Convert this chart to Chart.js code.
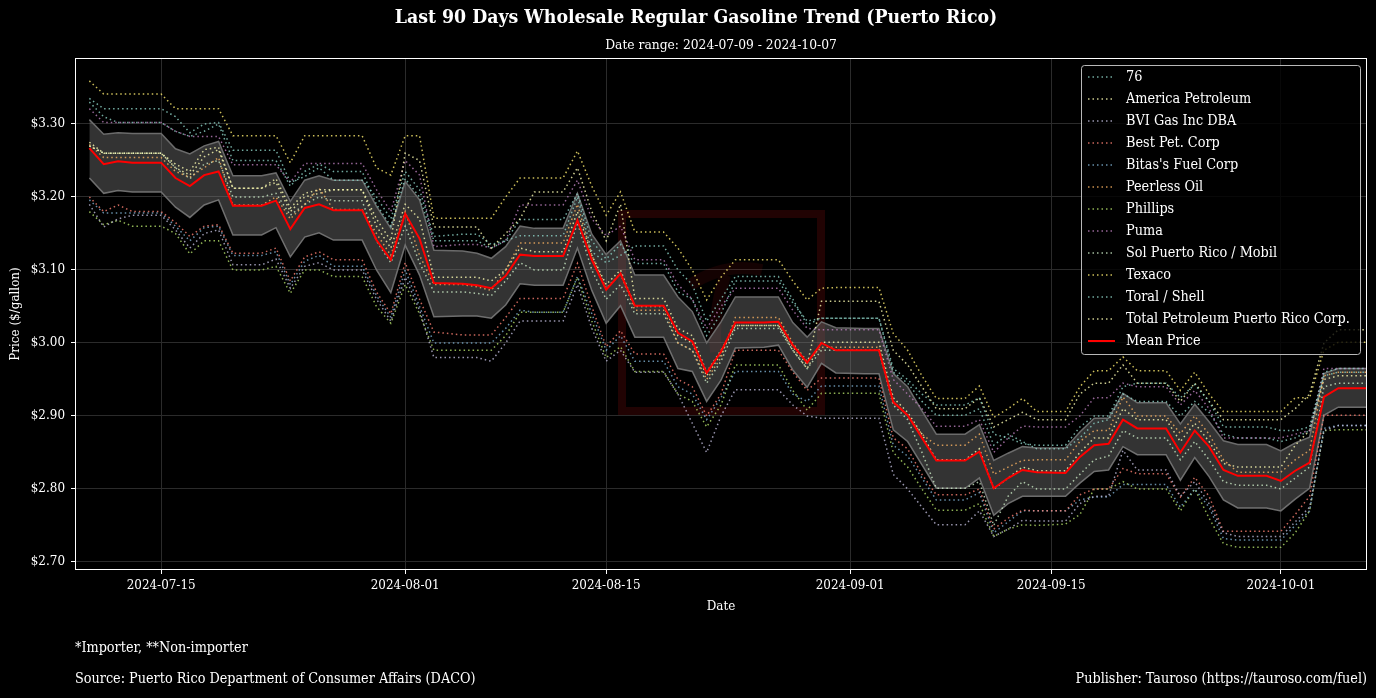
<!DOCTYPE html>
<html>
<head>
<meta charset="utf-8">
<script src="https://cdn.jsdelivr.net/npm/chart.js@4.4.1/dist/chart.umd.min.js"></script>
<style>
  html, body { margin: 0; padding: 0; background: #000; }
  #wrap { width: 1376px; height: 698px; }
</style>
</head>
<body>
<div id="wrap"><canvas id="gasChart" width="1376" height="698"></canvas></div>
<script>
// days with a price (2024, Sundays have no report)
const dates = ['07-10','07-11','07-12','07-13','07-15','07-16','07-17','07-18','07-19','07-20',
  '07-22','07-23','07-24','07-25','07-26','07-27','07-29','07-30','07-31','08-01',
  '08-02','08-03','08-05','08-06','08-07','08-08','08-09','08-10','08-12','08-13',
  '08-14','08-15','08-16','08-17','08-19','08-20','08-21','08-22','08-23','08-24',
  '08-26','08-27','08-28','08-29','08-30','08-31','09-02','09-03','09-04','09-05',
  '09-06','09-07','09-09','09-10','09-11','09-12','09-13','09-14','09-16','09-17',
  '09-18','09-19','09-20','09-21','09-23','09-24','09-25','09-26','09-27','09-28',
  '09-30','10-01','10-02','10-03','10-04','10-05','10-07'];

const price76 = [3.335,3.321,3.321,3.321,3.321,3.31,3.288,3.30,3.302,3.264,
  3.264,3.264,3.22,3.228,3.24,3.223,3.223,3.20,3.17,3.235,
  3.21,3.146,3.149,3.149,3.135,3.14,3.147,3.147,3.147,3.20,
  3.125,3.11,3.12,3.133,3.133,3.10,3.08,3.03,3.06,3.091,
  3.091,3.091,3.06,3.025,3.034,3.034,3.034,3.034,2.965,2.95,
  2.93,2.915,2.915,2.925,2.875,2.87,2.862,2.86,2.86,2.885,
  2.90,2.90,2.94,2.945,2.945,2.925,2.943,2.92,2.885,2.885,
  2.885,2.88,2.88,2.885,2.96,2.965,2.965];
const priceAmerica = [3.27,3.26,3.26,3.26,3.26,3.245,3.235,3.265,3.268,3.212,
  3.212,3.225,3.185,3.205,3.21,3.21,3.21,3.17,3.14,3.26,
  3.25,3.159,3.159,3.159,3.13,3.15,3.17,3.207,3.207,3.24,
  3.18,3.14,3.19,3.061,3.061,3.02,3.01,2.96,2.99,3.024,
  3.024,3.024,2.995,2.97,3.057,3.057,3.057,3.057,2.99,2.97,
  2.94,2.91,2.91,2.925,2.885,2.895,2.905,2.895,2.895,2.93,
  2.945,2.945,2.97,2.945,2.945,2.92,2.945,2.92,2.895,2.895,
  2.895,2.895,2.91,2.93,3.0,3.018,3.018];
const priceBvi = [3.19,3.159,3.17,3.175,3.175,3.155,3.13,3.15,3.155,3.107,
  3.107,3.115,3.075,3.105,3.11,3.10,3.10,3.06,3.03,3.09,
  3.045,2.98,2.98,2.98,2.975,3.0,3.03,3.03,3.03,3.08,
  3.02,2.975,2.99,2.96,2.96,2.93,2.89,2.85,2.90,2.936,
  2.936,2.936,2.915,2.90,2.897,2.897,2.897,2.897,2.82,2.80,
  2.775,2.751,2.751,2.77,2.735,2.745,2.757,2.756,2.756,2.78,
  2.79,2.79,2.853,2.826,2.826,2.79,2.81,2.78,2.74,2.735,
  2.735,2.735,2.755,2.775,2.88,2.887,2.887];
const priceBest = [3.20,3.18,3.189,3.18,3.18,3.165,3.146,3.16,3.162,3.123,
  3.123,3.13,3.085,3.118,3.125,3.114,3.114,3.07,3.04,3.11,
  3.06,3.015,3.011,3.011,3.011,3.035,3.061,3.061,3.061,3.109,
  3.05,2.995,3.017,2.985,2.985,2.95,2.94,2.90,2.93,2.99,
  2.99,2.99,2.96,2.935,2.952,2.952,2.952,2.952,2.87,2.855,
  2.82,2.792,2.792,2.80,2.745,2.76,2.771,2.77,2.77,2.792,
  2.80,2.80,2.828,2.821,2.821,2.789,2.816,2.79,2.742,2.742,
  2.742,2.742,2.765,2.79,2.901,2.901,2.901];
const priceBitas = [3.196,3.178,3.178,3.178,3.178,3.16,3.14,3.158,3.16,3.12,
  3.12,3.125,3.08,3.112,3.12,3.105,3.105,3.065,3.035,3.10,
  3.05,3.0,3.0,3.0,3.0,3.02,3.045,3.042,3.042,3.091,
  3.04,2.99,3.01,2.975,2.975,2.94,2.93,2.895,2.925,2.961,
  2.961,2.961,2.93,2.92,2.941,2.941,2.941,2.941,2.86,2.845,
  2.815,2.785,2.785,2.795,2.74,2.755,2.77,2.77,2.77,2.785,
  2.789,2.789,2.806,2.806,2.806,2.775,2.80,2.775,2.732,2.73,
  2.73,2.73,2.75,2.77,2.883,2.887,2.887];
const pricePeerless = [3.272,3.254,3.254,3.254,3.254,3.235,3.227,3.24,3.254,3.189,
  3.189,3.20,3.17,3.19,3.212,3.183,3.183,3.15,3.12,3.18,
  3.12,3.08,3.08,3.077,3.072,3.10,3.137,3.137,3.137,3.19,
  3.12,3.075,3.095,3.045,3.045,3.0,2.99,2.95,2.98,3.035,
  3.035,3.035,3.0,2.975,2.994,2.994,2.994,2.994,2.92,2.90,
  2.875,2.86,2.86,2.875,2.82,2.83,2.839,2.84,2.84,2.865,
  2.88,2.88,2.926,2.90,2.90,2.876,2.90,2.875,2.84,2.823,
  2.823,2.823,2.84,2.853,2.955,2.96,2.96];
const pricePhillips = [3.18,3.162,3.168,3.16,3.16,3.15,3.122,3.14,3.14,3.10,
  3.10,3.105,3.068,3.10,3.10,3.091,3.091,3.05,3.027,3.08,
  3.04,2.99,2.99,2.99,2.99,3.01,3.042,3.042,3.042,3.09,
  3.03,2.98,2.995,2.961,2.961,2.93,2.92,2.885,2.915,2.97,
  2.97,2.97,2.935,2.908,2.931,2.931,2.931,2.931,2.85,2.83,
  2.80,2.771,2.771,2.78,2.735,2.745,2.751,2.75,2.752,2.765,
  2.80,2.80,2.81,2.80,2.80,2.77,2.80,2.76,2.725,2.72,
  2.72,2.72,2.74,2.77,2.88,2.881,2.881];
const pricePuma = [3.321,3.302,3.302,3.302,3.302,3.29,3.283,3.283,3.283,3.244,
  3.244,3.244,3.22,3.246,3.246,3.246,3.246,3.21,3.18,3.25,
  3.23,3.132,3.135,3.135,3.13,3.14,3.189,3.189,3.189,3.223,
  3.17,3.147,3.16,3.114,3.114,3.08,3.06,3.02,3.05,3.075,
  3.075,3.075,3.045,3.02,3.018,3.018,3.018,3.018,2.95,2.93,
  2.91,2.886,2.886,2.895,2.85,2.87,2.886,2.885,2.885,2.90,
  2.925,2.925,2.945,2.94,2.94,2.915,2.935,2.91,2.87,2.87,
  2.87,2.87,2.875,2.88,2.965,2.965,2.965];
const priceSol = [3.27,3.26,3.26,3.26,3.26,3.24,3.225,3.245,3.25,3.20,
  3.20,3.205,3.175,3.19,3.20,3.195,3.195,3.14,3.11,3.16,
  3.11,3.07,3.07,3.068,3.065,3.085,3.11,3.10,3.10,3.165,
  3.10,3.06,3.08,3.04,3.04,3.0,2.99,2.945,2.975,3.02,
  3.02,3.02,2.99,2.965,2.99,2.99,2.99,2.99,2.915,2.895,
  2.85,2.801,2.801,2.81,2.75,2.79,2.81,2.80,2.80,2.82,
  2.84,2.845,2.88,2.87,2.87,2.84,2.865,2.84,2.81,2.805,
  2.805,2.80,2.815,2.83,2.94,2.945,2.945];
const priceTexaco = [3.359,3.341,3.341,3.341,3.341,3.321,3.321,3.321,3.321,3.284,
  3.284,3.284,3.247,3.284,3.284,3.284,3.284,3.24,3.23,3.284,
  3.284,3.171,3.171,3.171,3.171,3.20,3.226,3.226,3.226,3.263,
  3.215,3.175,3.207,3.152,3.152,3.13,3.10,3.059,3.09,3.114,
  3.114,3.114,3.085,3.059,3.075,3.076,3.076,3.076,3.013,2.99,
  2.955,2.924,2.924,2.941,2.898,2.91,2.924,2.906,2.906,2.94,
  2.962,2.962,2.981,2.962,2.962,2.935,2.96,2.93,2.906,2.906,
  2.906,2.906,2.925,2.925,2.99,3.001,3.001];
const priceToral = [3.33,3.31,3.302,3.302,3.302,3.29,3.283,3.29,3.30,3.25,
  3.25,3.25,3.215,3.235,3.245,3.235,3.235,3.19,3.16,3.225,
  3.20,3.14,3.14,3.14,3.13,3.14,3.169,3.169,3.169,3.205,
  3.14,3.115,3.135,3.109,3.109,3.07,3.06,3.01,3.04,3.085,
  3.085,3.085,3.055,3.03,3.034,3.034,3.034,3.034,2.96,2.945,
  2.92,2.901,2.901,2.91,2.86,2.875,2.865,2.855,2.855,2.87,
  2.89,2.895,2.93,2.92,2.92,2.90,2.92,2.905,2.875,2.87,
  2.87,2.865,2.87,2.88,2.955,2.96,2.96];
const priceTotal = [3.275,3.26,3.26,3.26,3.26,3.24,3.23,3.255,3.265,3.212,
  3.212,3.22,3.18,3.20,3.205,3.21,3.21,3.16,3.13,3.19,
  3.17,3.09,3.09,3.09,3.085,3.10,3.13,3.125,3.125,3.18,
  3.12,3.08,3.10,3.05,3.05,3.01,3.0,2.955,2.985,3.024,
  3.024,3.024,2.99,2.965,3.001,3.001,3.001,3.001,2.925,2.905,
  2.875,2.84,2.84,2.855,2.80,2.815,2.83,2.825,2.825,2.85,
  2.87,2.87,2.91,2.895,2.895,2.865,2.89,2.865,2.835,2.83,
  2.83,2.83,2.86,2.88,2.95,2.955,2.955];

const meanPrice = [3.267,3.245,3.249,3.247,3.247,3.226,3.215,3.230,3.235,3.188,
  3.188,3.195,3.156,3.185,3.190,3.182,3.182,3.141,3.114,3.177,
  3.143,3.082,3.081,3.079,3.075,3.092,3.121,3.119,3.119,3.168,
  3.114,3.073,3.095,3.051,3.051,3.014,3.002,2.959,2.988,3.028,
  3.028,3.029,2.997,2.973,3.000,2.990,2.990,2.990,2.919,2.901,
  2.870,2.839,2.839,2.851,2.801,2.815,2.826,2.823,2.822,2.844,
  2.860,2.862,2.895,2.883,2.883,2.850,2.880,2.858,2.826,2.818,
  2.818,2.811,2.825,2.836,2.926,2.938,2.938];
const bandHigh = [3.306,3.286,3.288,3.287,3.287,3.266,3.259,3.270,3.276,3.229,
  3.229,3.233,3.194,3.223,3.229,3.223,3.223,3.187,3.157,3.221,
  3.196,3.127,3.126,3.123,3.116,3.132,3.160,3.157,3.157,3.205,
  3.149,3.121,3.140,3.093,3.093,3.063,3.043,3.000,3.029,3.063,
  3.063,3.063,3.028,3.008,3.029,3.021,3.020,3.020,2.958,2.940,
  2.907,2.875,2.875,2.888,2.839,2.849,2.858,2.856,2.856,2.878,
  2.897,2.897,2.931,2.918,2.918,2.889,2.916,2.892,2.866,2.861,
  2.861,2.852,2.863,2.871,2.958,2.965,2.965];
const bandLow = [3.226,3.205,3.209,3.207,3.207,3.186,3.172,3.189,3.196,3.148,
  3.148,3.158,3.118,3.145,3.151,3.141,3.141,3.100,3.069,3.134,
  3.093,3.036,3.037,3.037,3.034,3.052,3.081,3.079,3.079,3.130,
  3.072,3.027,3.051,3.008,3.008,2.965,2.961,2.920,2.949,2.993,
  2.994,2.997,2.963,2.939,2.972,2.959,2.958,2.958,2.881,2.865,
  2.833,2.801,2.801,2.815,2.764,2.780,2.790,2.790,2.790,2.808,
  2.824,2.826,2.858,2.847,2.847,2.812,2.843,2.817,2.785,2.774,
  2.774,2.770,2.786,2.801,2.901,2.912,2.912];

const stationNames = ['76', 'America Petroleum', 'BVI Gas Inc DBA', 'Best Pet. Corp', "Bitas's Fuel Corp",
  'Peerless Oil', 'Phillips', 'Puma', 'Sol Puerto Rico / Mobil', 'Texaco', 'Toral / Shell',
  'Total Petroleum Puerto Rico Corp.'];
const stationColors = ['#8dd3c7', '#ffffb3', '#bebada', '#fb8072', '#80b1d3', '#fdb462',
  '#b3de69', '#bc80bd', '#ccebc5', '#ffed6f', '#8dd3c7', '#ffffb3'];
const stationPrices = [price76, priceAmerica, priceBvi, priceBest, priceBitas, pricePeerless,
  pricePhillips, pricePuma, priceSol, priceTexaco, priceToral, priceTotal];

const yTicks = [2.70, 2.80, 2.90, 3.00, 3.10, 3.20, 3.30];
const xTickDates = ['07-15', '08-01', '08-15', '09-01', '09-15', '10-01'];

const FAMILY = "'DejaVu Serif Condensed', 'DejaVu Serif', serif";
const measureCtx = document.createElement('canvas').getContext('2d');
function fitSize(text, width, weight) {
  measureCtx.font = (weight || 'normal') + ' 100px ' + FAMILY;
  return 100 * width / measureCtx.measureText(text).width;
}
const tickSize = fitSize('2024-07-15', 69);

function dayOf(md) {
  const [m, d] = md.split('-').map(Number);
  return (Date.UTC(2024, m - 1, d) - Date.UTC(2024, 6, 9)) / 86400000;
}
const xs = dates.map(dayOf);
const pts = vals => vals.map((v, i) => ({ x: xs[i], y: v }));

function hexA(hex, a) {
  const n = parseInt(hex.slice(1), 16);
  return `rgba(${n >> 16},${(n >> 8) & 255},${n & 255},${a})`;
}

const datasets = [
  { label: 'Mean Price', data: pts(meanPrice), borderColor: '#ff0000', borderWidth: 2, pointRadius: 0, fill: false }
];
stationNames.forEach((name, i) => {
  datasets.push({
    label: name, data: pts(stationPrices[i]), borderColor: hexA(stationColors[i], 0.8),
    borderWidth: 1.5, borderDash: [1.5, 3], pointRadius: 0, fill: false
  });
});
datasets.push({ label: 'band-high', data: pts(bandHigh), borderColor: '#6b6b6b', borderWidth: 1.5,
  backgroundColor: 'rgba(128,128,128,0.4)', fill: '+1', pointRadius: 0 });
datasets.push({ label: 'band-low', data: pts(bandLow), borderColor: '#6b6b6b', borderWidth: 1.5,
  pointRadius: 0, fill: false });

const decor = {
  id: 'decor',
  beforeDatasetsDraw(chart) {
    const ctx = chart.ctx;
    ctx.save();
    ctx.strokeStyle = 'rgba(255,20,20,0.13)';
    ctx.lineWidth = 8;
    ctx.strokeRect(622, 214, 199, 197);
    ctx.lineWidth = 12;
    ctx.strokeStyle = 'rgba(255,20,20,0.08)';
    ctx.beginPath();
    ctx.moveTo(690, 285);
    ctx.quadraticCurveTo(725, 262, 762, 270);
    ctx.moveTo(725, 275);
    ctx.quadraticCurveTo(712, 320, 716, 352);
    ctx.stroke();
    ctx.restore();
  },
  afterDatasetsDraw(chart) {
    const ctx = chart.ctx, a = chart.chartArea;
    ctx.save();
    ctx.strokeStyle = '#ffffff';
    ctx.lineWidth = 1;
    ctx.strokeRect(a.left + 0.5, a.top + 0.5, a.right - a.left - 1, a.bottom - a.top - 1);
    ctx.restore();
  },
  afterDraw(chart) {
    const ctx = chart.ctx, a = chart.chartArea;
    ctx.save();
    ctx.fillStyle = '#ffffff';
    ctx.textBaseline = 'middle';

    const title = 'Last 90 Days Wholesale Regular Gasoline Trend (Puerto Rico)';
    ctx.font = 'bold ' + fitSize(title, 603, 'bold') + 'px ' + FAMILY;
    ctx.textAlign = 'center';
    ctx.fillText(title, 696, 18);

    const sub = 'Date range: 2024-07-09 - 2024-10-07';
    ctx.font = fitSize(sub, 232) + 'px ' + FAMILY;
    ctx.fillText(sub, (a.left + a.right) / 2, 45);

    ctx.font = tickSize + 'px ' + FAMILY;
    ctx.fillText('Date', (a.left + a.right) / 2, 607);
    ctx.save();
    ctx.translate(16, (a.top + a.bottom) / 2);
    ctx.rotate(-Math.PI / 2);
    ctx.fillText('Price ($/gallon)', 0, 0);
    ctx.restore();

    const src = 'Source: Puerto Rico Department of Consumer Affairs (DACO)';
    const footSize = fitSize(src, 401);
    ctx.font = footSize + 'px ' + FAMILY;
    ctx.textAlign = 'left';
    ctx.fillText('*Importer, **Non-importer', 75, 648);
    ctx.fillText(src, 75, 679);
    ctx.textAlign = 'right';
    ctx.fillText('Publisher: Tauroso (https://tauroso.com/fuel)', 1367, 679);

    // legend box
    const lx = 1081, ly = 65, lw = 279, lh = 289;
    ctx.fillStyle = 'rgba(0,0,0,0.8)';
    ctx.strokeStyle = 'rgba(204,204,204,0.9)';
    ctx.lineWidth = 1;
    ctx.beginPath();
    ctx.roundRect(lx + 0.5, ly + 0.5, lw, lh, 3);
    ctx.fill();
    ctx.stroke();
    const legendSize = fitSize('Total Petroleum Puerto Rico Corp.', 224);
    ctx.font = legendSize + 'px ' + FAMILY;
    ctx.textAlign = 'left';
    const items = stationNames.map((n, i) => ({ name: n, color: hexA(stationColors[i], 0.8), dash: true }));
    items.push({ name: 'Mean Price', color: '#ff0000', dash: false });
    items.forEach((it, i) => {
      const y = 77 + 22 * i;
      ctx.strokeStyle = it.color;
      ctx.lineWidth = it.dash ? 1.5 : 2;
      ctx.setLineDash(it.dash ? [1.5, 3] : []);
      ctx.beginPath();
      ctx.moveTo(1088, y);
      ctx.lineTo(1115, y);
      ctx.stroke();
      ctx.fillStyle = '#ffffff';
      ctx.fillText(it.name, 1126, y);
    });
    ctx.restore();
  }
};

const tickFont = { family: FAMILY, size: tickSize };
const gridOpts = { color: '#2b2b2b', lineWidth: 1, drawTicks: true, tickLength: 4, tickColor: '#ffffff' };

new Chart(document.getElementById('gasChart'), {
  type: 'line',
  data: { datasets },
  options: {
    responsive: false,
    animation: false,
    devicePixelRatio: 1,
    layout: { padding: { top: 58, right: 9, left: 0, bottom: 0 } },
    plugins: { legend: { display: false }, tooltip: { enabled: false }, title: { display: false } },
    elements: { line: { tension: 0 } },
    scales: {
      x: {
        type: 'linear', min: 0, max: 90,
        afterBuildTicks: s => { s.ticks = xTickDates.map(d => ({ value: dayOf(d) })); },
        afterFit: s => { s.height = 128; },
        ticks: {
          color: '#ffffff', font: tickFont, padding: 4, maxRotation: 0, autoSkip: false,
          callback: v => new Date(Date.UTC(2024, 6, 9) + v * 86400000).toISOString().slice(0, 10)
        },
        grid: gridOpts,
        border: { display: false }
      },
      y: {
        type: 'linear', min: 2.689, max: 3.3904,
        afterBuildTicks: s => { s.ticks = yTicks.map(v => ({ value: v })); },
        afterFit: s => { s.width = 75; },
        ticks: { color: '#ffffff', font: tickFont, padding: 6, callback: v => '$' + v.toFixed(2) },
        grid: gridOpts,
        border: { display: false }
      }
    }
  },
  plugins: [decor]
});
</script>
</body>
</html>
